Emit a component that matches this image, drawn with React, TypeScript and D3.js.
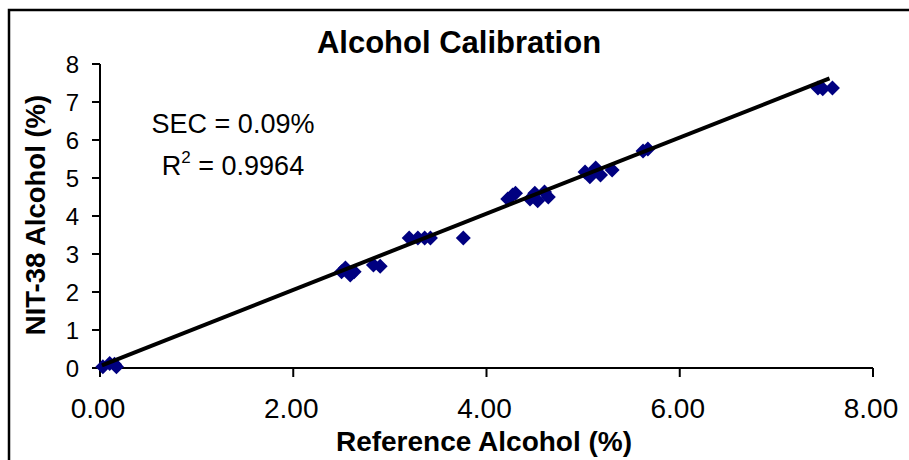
import React from "react";
import * as d3 from "d3";

const refAlcohol = [
  0.03, 0.1, 0.15, 0.17,
  2.5, 2.54, 2.59, 2.63,
  2.83, 2.9,
  3.2, 3.29, 3.36, 3.42,
  3.76,
  4.22, 4.27, 4.3,
  4.45, 4.5, 4.53, 4.6, 4.64,
  5.02, 5.07, 5.13, 5.18, 5.3,
  5.62, 5.67,
  7.43, 7.48, 7.58,
];
const nitAlcohol = [
  0.03, 0.12, 0.1, 0.03,
  2.53, 2.63, 2.45, 2.53,
  2.71, 2.68,
  3.42, 3.42, 3.42, 3.42,
  3.42,
  4.45, 4.55, 4.6,
  4.45, 4.6, 4.4, 4.63, 4.5,
  5.16, 5.03, 5.26, 5.08, 5.21,
  5.71, 5.76,
  7.37, 7.35, 7.37,
];
const fitX = [0.02, 7.55];
const fitY = [0.07, 7.62];
const xTicks = [0, 2, 4, 6, 8];
const yTicks = [0, 1, 2, 3, 4, 5, 6, 7, 8];

const W = 909;
const H = 460;
const plot = { left: 100, right: 873, top: 64, bottom: 368 };
const font = "Arial, 'Liberation Sans', sans-serif";
const navy = "#000080";

export default function App() {
  const x = d3.scaleLinear().domain([0, 8]).range([plot.left, plot.right]);
  const y = d3.scaleLinear().domain([0, 8]).range([plot.bottom, plot.top]);
  const line = d3
    .line<number>()
    .x((d, i) => x(fitX[i]))
    .y((d, i) => y(fitY[i]));
  const diamond = "M0,-7.5L7.5,0L0,7.5L-7.5,0Z";

  return (
    <svg
      width={W}
      height={H}
      style={{ position: "absolute", left: 0, top: 0, background: "#fff" }}
      fontFamily={font}
    >
      <rect x={0} y={0} width={W} height={H} fill="#fff" />
      <rect x={9} y={10} width={W + 20} height={H + 20} fill="none" stroke="#000" strokeWidth={2.5} />

      <text x={459} y={53} textAnchor="middle" fontSize={31} fontWeight="bold">
        Alcohol Calibration
      </text>

      {/* axes */}
      <line x1={plot.left} x2={plot.left} y1={plot.top} y2={plot.bottom} stroke="#000" strokeWidth={2} />
      <line x1={plot.left} x2={plot.right} y1={plot.bottom} y2={plot.bottom} stroke="#000" strokeWidth={2} />
      {yTicks.map((t) => (
        <g key={"y" + t}>
          <line x1={plot.left - 8} x2={plot.left} y1={y(t)} y2={y(t)} stroke="#000" strokeWidth={2} />
          <text x={79} y={y(t)} dy="0.36em" textAnchor="end" fontSize={24}>
            {t}
          </text>
        </g>
      ))}
      {xTicks.map((t) => (
        <g key={"x" + t}>
          <line x1={x(t)} x2={x(t)} y1={plot.bottom} y2={plot.bottom + 9} stroke="#000" strokeWidth={2} />
          <text x={x(t) - 2} y={418} textAnchor="middle" fontSize={28}>
            {t.toFixed(2)}
          </text>
        </g>
      ))}

      <text x={484} y={451} textAnchor="middle" fontSize={28} fontWeight="bold">
        Reference Alcohol (%)
      </text>
      <text
        transform={`translate(45,215) rotate(-90)`}
        textAnchor="middle"
        fontSize={27.5}
        fontWeight="bold"
      >
        NIT-38 Alcohol (%)
      </text>

      {/* points */}
      {refAlcohol.map((v, i) => (
        <path key={i} d={diamond} transform={`translate(${x(v)},${y(nitAlcohol[i])})`} fill={navy} />
      ))}

      {/* fit line */}
      <path d={line(fitX) || ""} fill="none" stroke="#000" strokeWidth={4} />

      <text x={233} y={133} textAnchor="middle" fontSize={27}>
        SEC = 0.09%
      </text>
      <text x={233} y={175} textAnchor="middle" fontSize={27}>
        R<tspan dy={-12} fontSize={17}>2</tspan>
        <tspan dy={12}> = 0.9964</tspan>
      </text>
    </svg>
  );
}
